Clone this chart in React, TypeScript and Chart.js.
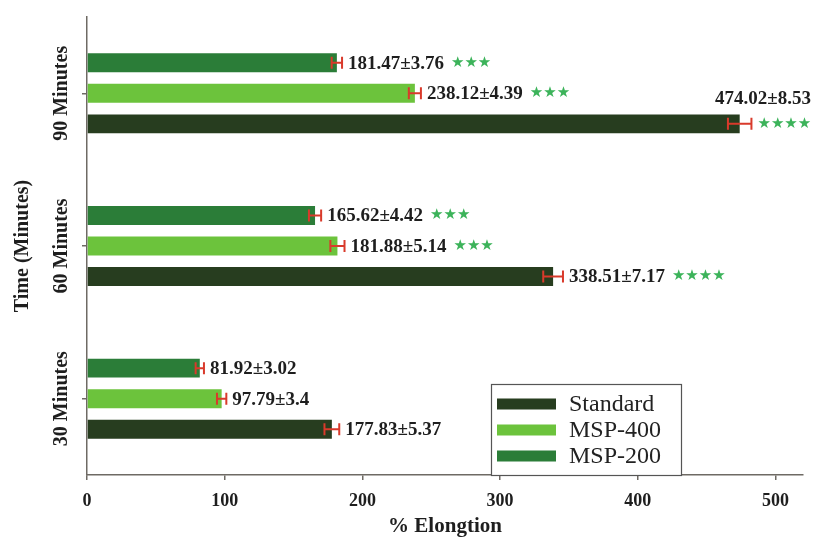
import React, { useEffect, useRef } from 'react';
import { Chart, registerables } from 'chart.js';

Chart.register(...registerables);

const categories = ['90 Minutes', '60 Minutes', '30 Minutes'];
const standardValues = [474.02, 338.51, 177.83];
const standardErrors = [8.53, 7.17, 5.37];
const standardStars = ['****', '****', ''];
const msp400Values = [238.12, 181.88, 97.79];
const msp400Errors = [4.39, 5.14, 3.4];
const msp400Stars = ['***', '***', ''];
const msp200Values = [181.47, 165.62, 81.92];
const msp200Errors = [3.76, 4.42, 3.02];
const msp200Stars = ['***', '***', ''];
const xTickValues = [0, 100, 200, 300, 400, 500];
const xMin = 0;
const xMax = 520;

const SERIF = '"Liberation Serif", "Times New Roman", serif';
const AXIS_COLOR = '#6e6a64';

const overlayPlugin = {
  id: 'overlay',
  afterDatasetsDraw(chart: any) {
    const ctx = chart.ctx;
    const xs = chart.scales.x;
    ctx.save();
    chart.data.datasets.forEach((ds: any, di: number) => {
      const meta = chart.getDatasetMeta(di);
      meta.data.forEach((bar: any, j: number) => {
        const v = ds.data[j];
        const e = ds.errors[j];
        const x1 = xs.getPixelForValue(v - e);
        const x2 = xs.getPixelForValue(v + e);
        const by = bar.y;
        ctx.strokeStyle = '#d93a2b';
        ctx.lineWidth = 2;
        ctx.beginPath();
        ctx.moveTo(x1, by);
        ctx.lineTo(x2, by);
        ctx.moveTo(x1, by - 6);
        ctx.lineTo(x1, by + 6);
        ctx.moveTo(x2, by - 6);
        ctx.lineTo(x2, by + 6);
        ctx.stroke();

        const text = `${v}±${e}`;
        ctx.font = `bold 19px ${SERIF}`;
        ctx.textBaseline = 'middle';
        ctx.fillStyle = '#1e1e1e';
        const tw = ctx.measureText(text).width;
        const starsText = (ds.stars[j] || '').replace(/\*/g, '★');
        let tx = x2 + 6;
        let starX: number;
        if (tx + tw + 55 > chart.width) {
          ctx.textAlign = 'right';
          ctx.fillText(text, chart.width - 4, by - 25);
          starX = x2 + 6;
        } else {
          ctx.textAlign = 'left';
          ctx.fillText(text, tx, by + 1);
          starX = tx + tw + 7;
        }
        if (starsText) {
          ctx.font = '15px "DejaVu Sans"';
          ctx.fillStyle = '#3cb35a';
          ctx.textAlign = 'left';
          ctx.fillText(starsText, starX, by);
        }
      });
    });
    ctx.restore();
  },
  afterDraw(chart: any) {
    const ctx = chart.ctx;
    const ys = chart.scales.y;
    const area = chart.chartArea;
    ctx.save();
    ctx.font = `bold 20px ${SERIF}`;
    ctx.fillStyle = '#1e1e1e';
    ctx.textAlign = 'center';
    ctx.textBaseline = 'middle';
    categories.forEach((label, i) => {
      const py = ys.getPixelForTick(i);
      ctx.save();
      ctx.translate(area.left - 25, py);
      ctx.rotate(-Math.PI / 2);
      ctx.fillText(label, 0, 0);
      ctx.restore();
    });

    const lx = area.left + 404;
    const ly = area.top + 367;
    const lw = 190;
    const lh = area.bottom - ly;
    ctx.fillStyle = '#ffffff';
    ctx.fillRect(lx, ly, lw, lh);
    ctx.strokeStyle = '#555';
    ctx.lineWidth = 1.2;
    ctx.strokeRect(lx + 0.5, ly + 0.5, lw, lh);
    const entries = [...chart.data.datasets].reverse();
    entries.forEach((ds: any, i: number) => {
      const ry = ly + 20 + i * 26;
      ctx.fillStyle = ds.backgroundColor;
      ctx.fillRect(lx + 6, ry - 5.5, 59, 11);
      ctx.fillStyle = '#222';
      ctx.font = `24px ${SERIF}`;
      ctx.textAlign = 'left';
      ctx.textBaseline = 'middle';
      ctx.fillText(ds.label, lx + 78, ry + 1);
    });
    ctx.restore();
  },
};

export default function App() {
  const ref = useRef<HTMLCanvasElement>(null);
  useEffect(() => {
    document.body.style.margin = '0';
    const canvas = ref.current;
    if (!canvas) return;
    const chart = new Chart(canvas, {
      type: 'bar',
      data: {
        labels: categories,
        datasets: [
          { label: 'MSP-200', data: msp200Values, errors: msp200Errors, stars: msp200Stars, backgroundColor: '#2b7d38' } as any,
          { label: 'MSP-400', data: msp400Values, errors: msp400Errors, stars: msp400Stars, backgroundColor: '#6cc33c' } as any,
          { label: 'Standard', data: standardValues, errors: standardErrors, stars: standardStars, backgroundColor: '#273d1f' } as any,
        ],
      },
      options: {
        indexAxis: 'y',
        responsive: false,
        animation: false,
        layout: { padding: { top: 17, right: 12, left: 0, bottom: 0 } },
        datasets: { bar: { categoryPercentage: 0.6, barPercentage: 0.62 } },
        plugins: { legend: { display: false }, tooltip: { enabled: false } },
        scales: {
          x: {
            type: 'linear',
            min: xMin,
            max: xMax,
            afterFit: (s: any) => { s.height = 65; },
            afterBuildTicks: (s: any) => { s.ticks = xTickValues.map((v) => ({ value: v })); },
            grid: { drawOnChartArea: false, drawTicks: true, tickLength: 5, color: AXIS_COLOR, lineWidth: 1.5 },
            border: { color: AXIS_COLOR, width: 1.5 },
            ticks: { padding: 11, color: '#1e1e1e', font: { family: SERIF, size: 18, weight: 'bold' } },
            title: { display: true, text: '% Elongtion', color: '#1e1e1e', padding: { top: 0, bottom: 1 }, font: { family: SERIF, size: 21, weight: 'bold' } },
          },
          y: {
            type: 'category',
            afterFit: (s: any) => { s.width = 87; },
            grid: { drawOnChartArea: false, drawTicks: true, tickLength: 5, offset: false, color: AXIS_COLOR, lineWidth: 1.5 },
            border: { color: AXIS_COLOR, width: 1.5 },
            ticks: { display: false },
            title: { display: true, text: 'Time (Minutes)', color: '#1e1e1e', padding: { top: 11, bottom: 0 }, font: { family: SERIF, size: 20, weight: 'bold' } },
          },
        },
      } as any,
      plugins: [overlayPlugin],
    });
    return () => chart.destroy();
  }, []);
  return (
    <div style={{ width: 815, height: 540 }}>
      <canvas ref={ref} width={815} height={540} style={{ display: 'block' }} />
    </div>
  );
}
